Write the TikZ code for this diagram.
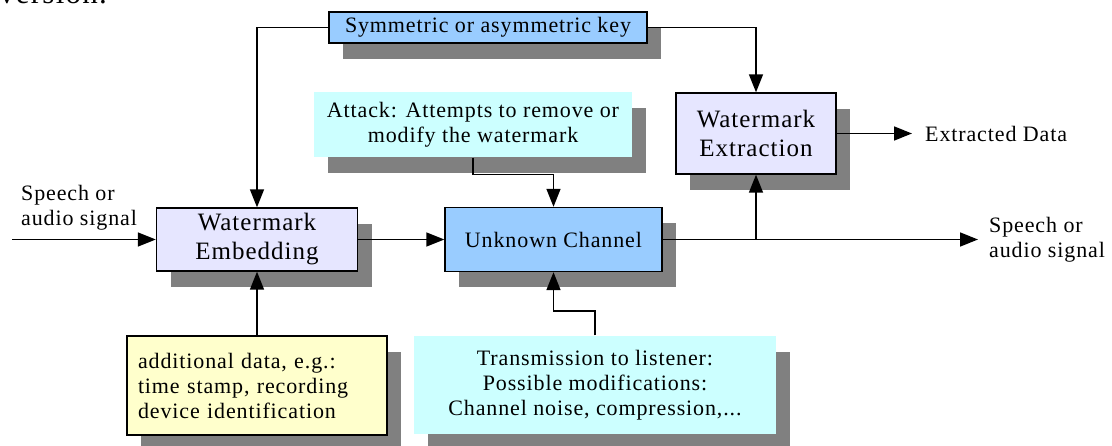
\documentclass[tikz,border=0pt]{standalone}
\usepackage{fontspec}
\setmainfont{Liberation Serif}[LetterSpace=4]
\usepackage[dvipsnames]{xcolor}
\usetikzlibrary{arrows.meta}
\usetikzlibrary{shadows}

\definecolor{keyblue}{HTML}{99CCFF}
\definecolor{wmlilac}{HTML}{E6E6FF}
\definecolor{notecyan}{HTML}{CCFFFF}
\definecolor{noteyellow}{HTML}{FFFFCC}
\definecolor{shadowgray}{HTML}{808080}

\tikzset{
	block/.style = {rectangle, inner sep = 0pt, align = center, line width = 1.4pt,
		font = \fontsize{22}{25}\selectfont,
		drop shadow = {shadow xshift = 14pt, shadow yshift = -16pt, fill = shadowgray, opacity = 1}},
	sig/.style = {-{Triangle[length = 18pt, width = 14pt]}, line width = 1.6pt},
	lbl/.style = {align = left, inner sep = 0pt, font = \fontsize{22}{25}\selectfont}
}

\begin{document}
\begin{tikzpicture}[x = 1pt, y = -1pt]
				\useasboundingbox (0,0) rectangle (1112,446);

				% cut-off line of the page above
				\node[anchor = base west, inner sep = 0pt, font = \fontsize{31}{31}\selectfont] at (-1,4) (page_text) {version.};

				\node[block, draw, fill = keyblue, minimum width = 318pt, minimum height = 31pt] at (488,27.5) (sym_key) {Symmetric or asymmetric key};
				\node[block, fill = notecyan, minimum width = 318pt, minimum height = 65pt] at (473,124.5) (attack) {Attack: Attempts to remove or\\modify the watermark};
				\node[block, draw, fill = wmlilac, minimum width = 160pt, minimum height = 81pt, font = \fontsize{25}{29}\selectfont] at (756,133.5) (extraction) {Watermark\\Extraction};
				\node[block, draw, fill = wmlilac, minimum width = 201pt, minimum height = 63pt, font = \fontsize{25}{29}\selectfont] at (257,239.5) (embedding) {Watermark\\Embedding};
				\node[block, draw, fill = keyblue, minimum width = 217pt, minimum height = 64pt] at (553.5,239.5) (channel) {Unknown Channel};
				\node[block, draw, fill = noteyellow, minimum width = 260pt, minimum height = 99pt, align = left, inner xsep = 11pt, text width = 238pt] at (257,385.5) (add_data) {additional data, e.g.:\\time stamp, recording\\device identification};
				\node[block, fill = notecyan, minimum width = 362pt, minimum height = 98pt] at (595,385) (transmission) {Transmission to listener:\\Possible modifications:\\Channel noise, compression,...};

				\coordinate (speech_in) at (12,239.5);
				\coordinate (speech_out) at (978,239.5);
				\coordinate (tap) at (756,239.5);
				\coordinate (data_out) at (912,133.5);

				\node[lbl, anchor = west] at (21,208) (speech_in_text) {Speech or\\audio signal};
				\node[lbl, anchor = west] at (989,240) (speech_out_text) {Speech or\\audio signal};
				\node[lbl, anchor = west] at (925,133.5) (data_out_text) {Extracted Data};

				\draw[sig] (speech_in) -- (embedding.west);
				\draw[sig] (sym_key.west) -| (embedding.north);
				\draw[sig] (sym_key.east) -| (extraction.north);
				\draw[sig] (embedding.east) -- (channel.west);
				\draw[sig] (attack.south) -- ++(0,17) -| (channel.north);
				\draw[sig] (transmission.north) -- ++(0,-24) -| (channel.south);
				\draw[sig] (add_data.north) -- (embedding.south);
				\draw[sig] (channel.east) -- (speech_out);
				\draw[sig] (tap) -- (extraction.south);
				\draw[sig] (extraction.east) -- (data_out);
			\end{tikzpicture}
\end{document}
